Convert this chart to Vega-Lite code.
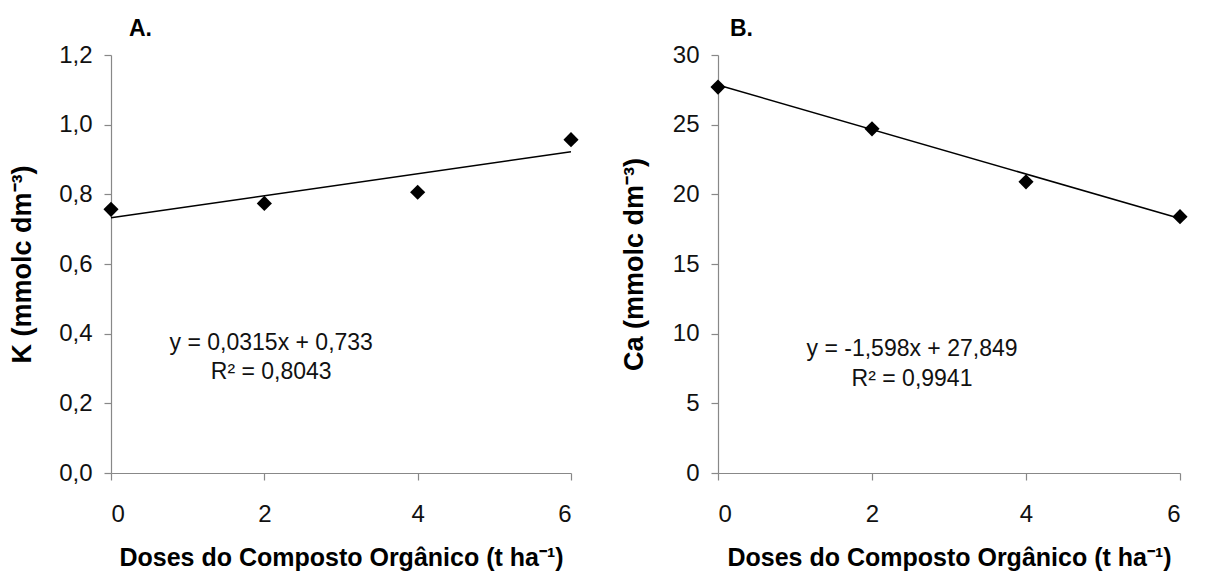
{
  "$schema": "https://vega.github.io/schema/vega-lite/v6.json",
  "background": "white",
  "padding": {"left": 8, "top": 18, "right": 5, "bottom": 4},
  "spacing": 41,
  "config": {
    "view": {"stroke": null},
    "font": "Liberation Sans",
    "axis": {
      "grid": false,
      "domainColor": "#888888",
      "tickColor": "#888888",
      "domainWidth": 1.2,
      "tickWidth": 1.2,
      "tickSize": 7,
      "labelFont": "Liberation Sans",
      "labelFontSize": 24,
      "labelColor": "#111111",
      "titleFont": "Liberation Sans",
      "titleFontWeight": "bold",
      "titleFontSize": 25,
      "titleColor": "#000000"
    },
    "title": {"font": "Liberation Sans", "fontWeight": "bold", "fontSize": 23, "color": "#000000", "anchor": "start", "frame": "group"}
  },
  "datasets": {
    "kObs": [
      {"dose": 0, "value": 0.757},
      {"dose": 2, "value": 0.774},
      {"dose": 4, "value": 0.806},
      {"dose": 6, "value": 0.957}
    ],
    "kFit": [
      {"dose": 0, "value": 0.733},
      {"dose": 6, "value": 0.922}
    ],
    "kEq": [
      {"dose": 2.09, "value": 0.374, "label": "y = 0,0315x + 0,733"},
      {"dose": 2.09, "value": 0.289, "label": "R² = 0,8043"}
    ],
    "caObs": [
      {"dose": 0, "value": 27.7},
      {"dose": 2, "value": 24.7},
      {"dose": 4, "value": 20.9},
      {"dose": 6, "value": 18.4}
    ],
    "caFit": [
      {"dose": 0, "value": 27.849},
      {"dose": 6, "value": 18.261}
    ],
    "caEq": [
      {"dose": 2.52, "value": 8.87, "label": "y = -1,598x + 27,849"},
      {"dose": 2.52, "value": 6.78, "label": "R² = 0,9941"}
    ]
  },
  "hconcat": [
    {
      "width": 460,
      "height": 418,
      "title": {"text": "A.", "dx": 18, "offset": 2},
      "layer": [
        {
          "data": {"name": "kFit"},
          "mark": {"type": "line", "color": "#000000", "strokeWidth": 1.5},
          "encoding": {
            "x": {"field": "dose", "type": "quantitative", "scale": {"domain": [0, 6], "nice": false},
                  "axis": {"values": [0, 2, 4, 6], "format": "d", "title": "Doses do Composto Orgânico (t ha⁻¹)", "labelPadding": 22, "titlePadding": 19}},
            "y": {"field": "value", "type": "quantitative", "scale": {"domain": [0, 1.2], "nice": false},
                  "axis": {"values": [0, 0.2, 0.4, 0.6, 0.8, 1.0, 1.2], "labelExpr": "replace(format(datum.value, '.1f'), '.', ',')", "title": "K (mmolc dm⁻³)", "titleFontSize": 27, "labelPadding": 12, "titlePadding": 22}}
          }
        },
        {
          "data": {"name": "kObs"},
          "mark": {"type": "point", "shape": "diamond", "filled": true, "color": "#000000", "size": 230, "opacity": 1},
          "encoding": {
            "x": {"field": "dose", "type": "quantitative"},
            "y": {"field": "value", "type": "quantitative"}
          }
        },
        {
          "data": {"name": "kEq"},
          "mark": {"type": "text", "fontSize": 23, "align": "center", "baseline": "middle", "color": "#111111"},
          "encoding": {
            "x": {"field": "dose", "type": "quantitative"},
            "y": {"field": "value", "type": "quantitative"},
            "text": {"field": "label"}
          }
        }
      ]
    },
    {
      "width": 462,
      "height": 418,
      "title": {"text": "B.", "dx": 12, "offset": 2},
      "layer": [
        {
          "data": {"name": "caFit"},
          "mark": {"type": "line", "color": "#000000", "strokeWidth": 1.5},
          "encoding": {
            "x": {"field": "dose", "type": "quantitative", "scale": {"domain": [0, 6], "nice": false},
                  "axis": {"values": [0, 2, 4, 6], "format": "d", "title": "Doses do Composto Orgânico (t ha⁻¹)", "labelPadding": 22, "titlePadding": 19}},
            "y": {"field": "value", "type": "quantitative", "scale": {"domain": [0, 30], "nice": false},
                  "axis": {"values": [0, 5, 10, 15, 20, 25, 30], "title": "Ca (mmolc dm⁻³)", "titleFontSize": 27, "labelPadding": 12, "titlePadding": 24}}
          }
        },
        {
          "data": {"name": "caObs"},
          "mark": {"type": "point", "shape": "diamond", "filled": true, "color": "#000000", "size": 230, "opacity": 1},
          "encoding": {
            "x": {"field": "dose", "type": "quantitative"},
            "y": {"field": "value", "type": "quantitative"}
          }
        },
        {
          "data": {"name": "caEq"},
          "mark": {"type": "text", "fontSize": 23, "align": "center", "baseline": "middle", "color": "#111111"},
          "encoding": {
            "x": {"field": "dose", "type": "quantitative"},
            "y": {"field": "value", "type": "quantitative"},
            "text": {"field": "label"}
          }
        }
      ]
    }
  ]
}
